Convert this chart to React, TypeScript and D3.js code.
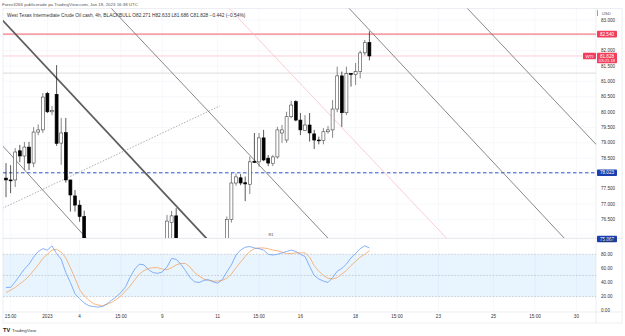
import * as d3 from 'd3';

const timeLabels = ['15:00', '2023', '4', '15:00', '9', '11', '15:00', '16', '18', '15:00', '23', '25', '15:00', '30'];
const timeLabelBars = [1, 9, 16, 25, 34, 46, 55, 64, 76, 85, 94, 106, 115, 124];

// 4h candles, bar 0 = first visible bar on the left
const opens = [
  77.85, 77.79, 77.79, 78.74, 78.57, 78.86, 78.34, 79.35, 79.42, 80.61,
  80.01, 80.58, 78.99, 79.33, 77.79, 77.27, 76.97, 76.6, 75.7, 75.3,
  74.9, 74.6, 74.8, 74.7, 74.95, 75.1, 75.3, 75.55, 75.45, 75.6,
  75.5, 75.3, 75.2, 75.4, 75.35, 75.6, 76.4, 76.62, 75.7, 75.4,
  75.1, 74.8, 74.7, 74.9, 75.1, 75.0, 74.9, 75.2, 75.6, 76.5,
  77.69, 77.86, 77.7, 77.65, 78.4, 78.38, 79.16, 78.5, 78.32, 78.54,
  79.32, 79.09, 79.85, 80.34, 79.74, 79.4, 79.58, 79.29, 79.09, 79.07,
  79.36, 79.42, 80.1, 81.18, 79.98, 81.26, 81.22, 81.32, 81.93, 82.271,
];
const highs = [
  78.34, 78.27, 78.83, 78.93, 79.03, 79.03, 79.51, 79.6, 80.62, 80.66,
  80.2, 81.53, 79.81, 79.81, 77.79, 77.46, 77.13, 76.79, 75.75, 75.4,
  75.0, 74.95, 75.0, 75.1, 75.25, 75.45, 75.7, 75.75, 75.75, 75.78,
  75.6, 75.45, 75.55, 75.6, 75.75, 76.65, 76.78, 76.87, 75.8, 75.5,
  75.2, 75.0, 75.05, 75.25, 75.3, 75.15, 75.35, 75.75, 76.6, 78.02,
  78.0, 77.98, 77.9, 78.55, 79.32, 79.32, 79.42, 78.6, 78.6, 79.52,
  79.58, 80.01, 80.37, 80.39, 79.97, 79.9, 79.97, 79.42, 79.2, 79.48,
  79.55, 80.39, 81.48, 81.32, 81.48, 81.27, 81.6, 82.0, 82.35, 82.633,
];
const lows = [
  77.23, 77.36, 77.56, 78.37, 78.11, 78.11, 78.21, 79.25, 79.32, 79.97,
  79.9, 78.9, 78.28, 77.7, 76.76, 76.76, 76.43, 75.5, 75.1, 74.7,
  74.4, 74.5, 74.55, 74.6, 74.85, 75.0, 75.2, 75.3, 75.35, 75.4,
  75.1, 75.05, 75.1, 75.2, 75.25, 75.5, 75.8, 75.5, 75.2, 74.9,
  74.6, 74.5, 74.6, 74.8, 74.85, 74.7, 74.8, 75.1, 75.5, 76.4,
  77.6, 77.62, 77.1, 77.33, 78.34, 78.22, 78.4, 78.24, 78.24, 78.48,
  79.0, 79.0, 79.8, 79.7, 79.25, 79.38, 79.04, 78.8, 78.95, 78.95,
  79.3, 79.16, 80.0, 79.52, 79.9, 80.83, 80.88, 81.1, 81.85, 81.686,
];
const closes = [
  77.79, 77.76, 78.7, 78.57, 78.86, 78.34, 79.35, 79.42, 80.49, 80.01,
  80.05, 78.98, 79.32, 77.79, 77.3, 76.97, 76.6, 75.7, 75.3, 74.9,
  74.6, 74.8, 74.7, 74.95, 75.1, 75.3, 75.55, 75.45, 75.6, 75.5,
  75.3, 75.2, 75.4, 75.35, 75.6, 76.45, 76.62, 75.7, 75.4, 75.1,
  74.8, 74.7, 74.9, 75.1, 75.0, 74.9, 75.2, 75.6, 76.5, 77.69,
  77.89, 77.69, 77.66, 78.38, 78.36, 79.16, 78.44, 78.34, 78.54, 79.42,
  79.42, 79.85, 80.23, 79.74, 79.42, 79.58, 79.32, 79.09, 79.07, 79.36,
  79.42, 80.1, 81.18, 79.98, 81.26, 81.22, 81.32, 81.93, 82.26, 81.828,
];

// Stochastic %K and %D per bar
const stochK = [
  33, 33, 41, 50, 59, 66, 76, 84, 88, 86,
  92, 81, 73, 54, 40, 24, 17, 11, 7, 6,
  5, 6, 10, 15, 20, 26, 34, 48, 59, 66,
  65, 58, 54, 53, 55, 62, 74, 73, 66, 57,
  47, 41, 40, 43, 44, 41, 39, 44, 55, 65,
  79, 86, 90, 91, 89, 88, 86, 80, 79, 80,
  82, 84, 86, 84, 80, 77, 63, 50, 45, 42,
  40, 47, 56, 60, 66, 75, 81, 88, 92, 89,
];
const stochD = [
  26, 29, 33, 38, 43, 49, 57, 65, 74, 80,
  86, 87, 83, 75, 61, 46, 30, 21, 15, 10,
  8, 7, 9, 12, 16, 21, 28, 35, 44, 52,
  57, 60, 61, 61, 59, 58, 61, 65, 67, 67,
  62, 54, 49, 45, 43, 42, 42, 43, 46, 52,
  61, 69, 77, 84, 88, 89, 89, 88, 86, 85,
  83, 81, 81, 82, 82, 82, 76, 64, 56, 50,
  46, 45, 47, 52, 57, 64, 70, 76, 80, 85,
];

const priceTicks = [83, 82, 81.5, 81, 80.5, 80, 79.5, 79, 78.5, 77.5, 77, 76.5];
const priceGrid = [83, 82.5, 82, 81.5, 81, 80.5, 80, 79.5, 79, 78.5, 78, 77.5, 77, 76.5, 76];
const oscTicks = [100, 80, 60, 40, 20, 0];
const oscLevels = [80, 50, 20];

// drawings: [bar, price] endpoints
const trendLines = [
  { kind: 'heavy', a: [-2, 83.19], b: [45, 75.66] },
  { kind: 'thin', a: [-2, 79.11], b: [20, 75.48] },
  { kind: 'dotted', a: [-2, 76.78], b: [46.5, 80.2] },
  { kind: 'thin', a: [22.2, 83.49], b: [70.4, 75.83] },
  { kind: 'pink', a: [47.8, 83.49], b: [96.1, 75.84] },
  { kind: 'thin', a: [73.9, 83.49], b: [121.7, 75.84] },
  { kind: 'thin', a: [99.6, 83.49], b: [128.4, 78.93] },
];
const resistance = 82.54;
const lastPrice = 81.828;
const greyLevel = 81.27;
const supportDashed = 78.023;
const lowMark = 75.867;

const FONT = 'Liberation Sans, Arial, sans-serif';

export default function App() {
  const L = 3, R = 596, T = 8.5, B = 238, OT = 238.5, OB = 312;
  const x = d3.scaleLinear().domain([0, 100]).range([6, 466]);
  const y = d3.scaleLinear().domain([76, 83]).range([234.9, 20]);
  const yo = d3.scaleLinear().domain([0, 100]).range([310.7, 240.2]);
  const bw = 3;

  const kLine = d3.line<number>().x((_, i) => x(i)).y((d) => yo(d))(stochK) ?? '';
  const dLine = d3.line<number>().x((_, i) => x(i)).y((d) => yo(d))(stochD) ?? '';

  const lineStyle = (k: string) => {
    if (k === 'heavy') return { stroke: '#5d5d5d', strokeWidth: 1.8 };
    if (k === 'pink') return { stroke: '#f7c1c8', strokeWidth: 0.8 };
    if (k === 'dotted') return { stroke: '#9a9a9a', strokeWidth: 0.8, strokeDasharray: '1.5,1.5' };
    return { stroke: '#6a6a6a', strokeWidth: 0.8 };
  };

  const axisLabel = (v: number, text: string, bg: string, key: string) => (
    <g key={key}>
      <rect x={597} y={y(v) - 3.3} width={20} height={6.6} fill={bg} rx={0.8} />
      <text x={607} y={y(v) + 1.7} textAnchor="middle" fontSize={4.6} fill="#fff">{text}</text>
    </g>
  );

  return (
    <div style={{ position: 'fixed', left: 0, top: 0 }}>
      <svg width={625} height={336} style={{ display: 'block', fontFamily: FONT, background: '#fff' }}>
        <defs>
          <clipPath id="main"><rect x={L} y={T} width={R - L} height={B - T} /></clipPath>
          <clipPath id="osc"><rect x={L} y={OT} width={R - L} height={OB - OT} /></clipPath>
        </defs>

        <text x={2} y={5.5} fontSize={4.4} fill="#555">Forex3266 publicerade på TradingView.com, Jan 18, 2023 16:38 UTC</text>

        {/* frame */}
        <rect x={L} y={T} width={622 - L} height={323 - T} fill="none" stroke="#e0e3eb" strokeWidth={0.6} />
        <line x1={R} x2={R} y1={T} y2={323} stroke="#e0e3eb" strokeWidth={0.6} />
        <line x1={L} x2={622} y1={B + 0.3} y2={B + 0.3} stroke="#d1d4dc" strokeWidth={0.6} />
        <line x1={L} x2={622} y1={OB} y2={OB} stroke="#e0e3eb" strokeWidth={0.6} />

        {/* grid */}
        {priceGrid.map((p) => (
          <line key={'pg' + p} x1={L} x2={R} y1={y(p)} y2={y(p)} stroke="#f2f4f8" strokeWidth={0.6} />
        ))}
        {timeLabelBars.map((b, i) => (
          <g key={'tg' + i}>
            <line x1={x(b)} x2={x(b)} y1={T} y2={B} stroke="#f2f4f8" strokeWidth={0.6} />
            <line x1={x(b)} x2={x(b)} y1={OT} y2={OB} stroke="#f2f4f8" strokeWidth={0.6} />
          </g>
        ))}

        <g clipPath="url(#main)">
          {/* horizontal levels */}
          <line x1={L} x2={R} y1={y(greyLevel)} y2={y(greyLevel)} stroke="#e3e3e3" strokeWidth={1.4} />
          <line x1={L} x2={R} y1={y(resistance)} y2={y(resistance)} stroke="#f5a0a9" strokeWidth={1.6} />
          <line x1={L} x2={R} y1={y(lastPrice)} y2={y(lastPrice)} stroke="#f8c4ca" strokeWidth={0.8} />
          <line x1={L} x2={R} y1={y(supportDashed)} y2={y(supportDashed)} stroke="#2f55d4" strokeWidth={1} strokeDasharray="3.5,2.5" />

          {/* trend lines */}
          {trendLines.map((t, i) => (
            <line key={'tl' + i} x1={x(t.a[0])} y1={y(t.a[1])} x2={x(t.b[0])} y2={y(t.b[1])} {...lineStyle(t.kind)} />
          ))}

          {/* candles */}
          {opens.map((o, i) => {
            const c = closes[i];
            const up = c >= o;
            const top = y(Math.max(o, c));
            const h = Math.max(0.8, Math.abs(y(o) - y(c)));
            return (
              <g key={'c' + i}>
                <line x1={x(i)} x2={x(i)} y1={y(highs[i])} y2={y(lows[i])} stroke={up ? '#555' : '#111'} strokeWidth={0.7} />
                <rect x={x(i) - bw / 2} y={top} width={bw} height={h} fill={up ? '#fff' : '#000'} stroke={up ? '#444' : '#000'} strokeWidth={0.6} />
              </g>
            );
          })}
        </g>

        {/* legend */}
        <text x={7} y={17} fontSize={4.8} fill="#333">
          West Texas Intermediate Crude Oil cash, 4h, BLACKBULL{'  '}
          <tspan>O82.271 H82.633 L81.686 C81.828 −0.442 (−0.54%)</tspan>
        </text>
        <text x={271} y={236} fontSize={3.8} fill="#444" textAnchor="middle">R1</text>

        {/* price axis */}
        <text x={602} y={14.5} fontSize={4.2} fill="#555">USD</text>
        <line x1={597.5} x2={597.5} y1={10} y2={16} stroke="#2962ff" strokeWidth={0.6} />
        {priceTicks.map((p) => (
          <text key={'pt' + p} x={601} y={y(p) + 1.6} fontSize={4.6} fill="#333">{p.toFixed(3)}</text>
        ))}
        {axisLabel(resistance, resistance.toFixed(3), '#f23d5c', 'res')}
        <g>
          <rect x={597} y={y(lastPrice) - 3.3} width={20} height={10.5} fill="#f23d5c" rx={0.8} />
          <text x={607} y={y(lastPrice) + 1.7} textAnchor="middle" fontSize={4.6} fill="#fff">{lastPrice.toFixed(3)}</text>
          <text x={607} y={y(lastPrice) + 6.4} textAnchor="middle" fontSize={4.2} fill="#fff">03:21:18</text>
          <rect x={583} y={y(lastPrice) - 3.3} width={13} height={6.6} fill="#f23d5c" rx={0.8} />
          <text x={589.5} y={y(lastPrice) + 1.7} textAnchor="middle" fontSize={4.4} fill="#fff">WTI</text>
        </g>
        {axisLabel(supportDashed, supportDashed.toFixed(3), '#1b3fae', 'sup')}
        {axisLabel(lowMark, lowMark.toFixed(3), '#1b3fae', 'low')}

        {/* oscillator */}
        <rect x={L} y={yo(80)} width={R - L} height={yo(20) - yo(80)} fill="rgba(33,150,243,0.1)" />
        {oscLevels.map((v) => (
          <line key={'ol' + v} x1={L} x2={R} y1={yo(v)} y2={yo(v)} stroke="#a0a3ab" strokeWidth={0.5} strokeDasharray="1.6,1.6" />
        ))}
        <g clipPath="url(#osc)">
          <path d={dLine} fill="none" stroke="#f6a460" strokeWidth={0.8} />
          <path d={kLine} fill="none" stroke="#6a9cf6" strokeWidth={0.8} />
        </g>
        {oscTicks.map((v) => (
          <text key={'ot' + v} x={601} y={yo(v) + 1.6} fontSize={4.6} fill="#333">{v.toFixed(2)}</text>
        ))}

        {/* time axis */}
        {timeLabels.map((t, i) => (
          <text key={'tl' + i} x={x(timeLabelBars[i])} y={318} fontSize={4.6} fill="#333" textAnchor="middle">{t}</text>
        ))}

        {/* footer */}
        <text x={3} y={331.5} fontSize={5.6} fontWeight={700} fill="#131722">TV</text>
        <text x={12} y={331.5} fontSize={4.4} fill="#333">TradingView</text>
      </svg>
    </div>
  );
}
